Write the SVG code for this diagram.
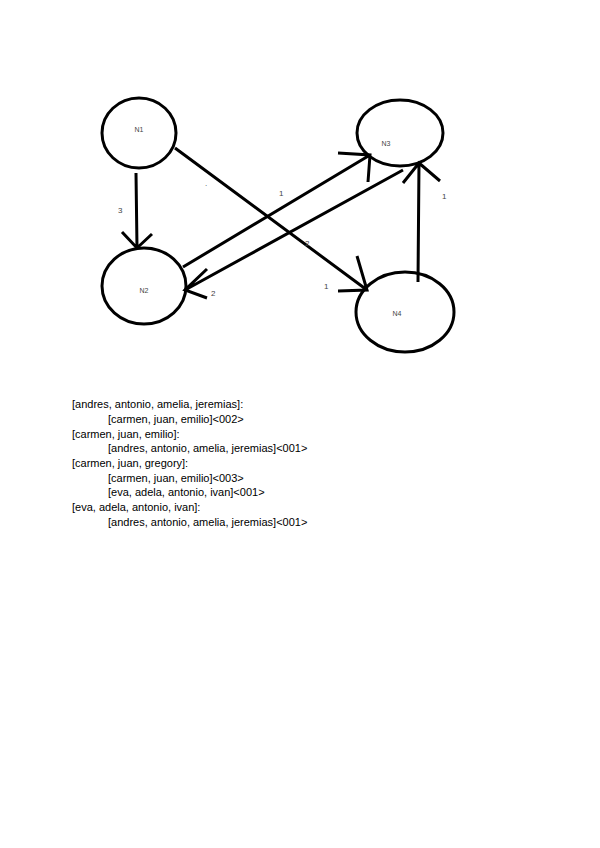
<svg xmlns="http://www.w3.org/2000/svg" width="600" height="848" viewBox="0 0 600 848">
<style>
.node{fill:none;stroke:#000;stroke-width:3}
.lbl{font-family:"Liberation Sans",Arial,sans-serif;font-size:7px;fill:#444;text-anchor:middle}
.e{fill:none;stroke:#000;stroke-width:3;stroke-linecap:butt}
.el{font-family:"Liberation Sans",Arial,sans-serif;font-size:8px;fill:#444}
.t{font-family:"Liberation Sans",Arial,sans-serif;font-size:11px;fill:#000}
</style>
<rect width="600" height="848" fill="#fff"/>
<g id="N1"><ellipse class="node" cx="139" cy="133" rx="37" ry="35"/><text class="lbl" x="139" y="132">N1</text></g>
<g id="N2"><ellipse class="node" cx="144" cy="286" rx="42" ry="38"/><text class="lbl" x="144" y="293">N2</text></g>
<g id="N3"><ellipse class="node" cx="400" cy="133" rx="43" ry="33"/><text class="lbl" x="386" y="146">N3</text></g>
<g id="N4"><ellipse class="node" cx="405" cy="312" rx="49" ry="40"/><text class="lbl" x="397" y="316">N4</text></g>
<g id="connectors">
<path class="e" d="M136,173 L137,248 M122,232 L137,248 L152,234"/>
<path class="e" d="M175,148 L367,290 M338,291 L367,290 L357,256"/>
<path class="e" d="M183,267 L370,155 M338,153 L370,155 L368,182"/>
<path class="e" d="M403,170 L185,290 M207,269 L185,290 L207,298"/>
<path class="e" d="M418,282 L419,163 M403,183 L419,163 L440,181"/>
<text class="el" x="118" y="213">3</text>
<text class="el" x="279" y="196">1</text>
<text class="el" x="305" y="246" fill="#999">2</text>
<text class="el" x="324" y="289">1</text>
<text class="el" x="211" y="296">2</text>
<text class="el" x="442" y="199">1</text>
<text class="el" x="205" y="186">.</text>
</g>
<g id="text">
<text class="t" x="72" y="408">[andres, antonio, amelia, jeremias]:</text>
<text class="t" x="108" y="423">[carmen, juan, emilio]&lt;002&gt;</text>
<text class="t" x="72" y="438">[carmen, juan, emilio]:</text>
<text class="t" x="108" y="452">[andres, antonio, amelia, jeremias]&lt;001&gt;</text>
<text class="t" x="72" y="467">[carmen, juan, gregory]:</text>
<text class="t" x="108" y="482">[carmen, juan, emilio]&lt;003&gt;</text>
<text class="t" x="108" y="496">[eva, adela, antonio, ivan]&lt;001&gt;</text>
<text class="t" x="72" y="511">[eva, adela, antonio, ivan]:</text>
<text class="t" x="108" y="526">[andres, antonio, amelia, jeremias]&lt;001&gt;</text>
</g>
</svg>
